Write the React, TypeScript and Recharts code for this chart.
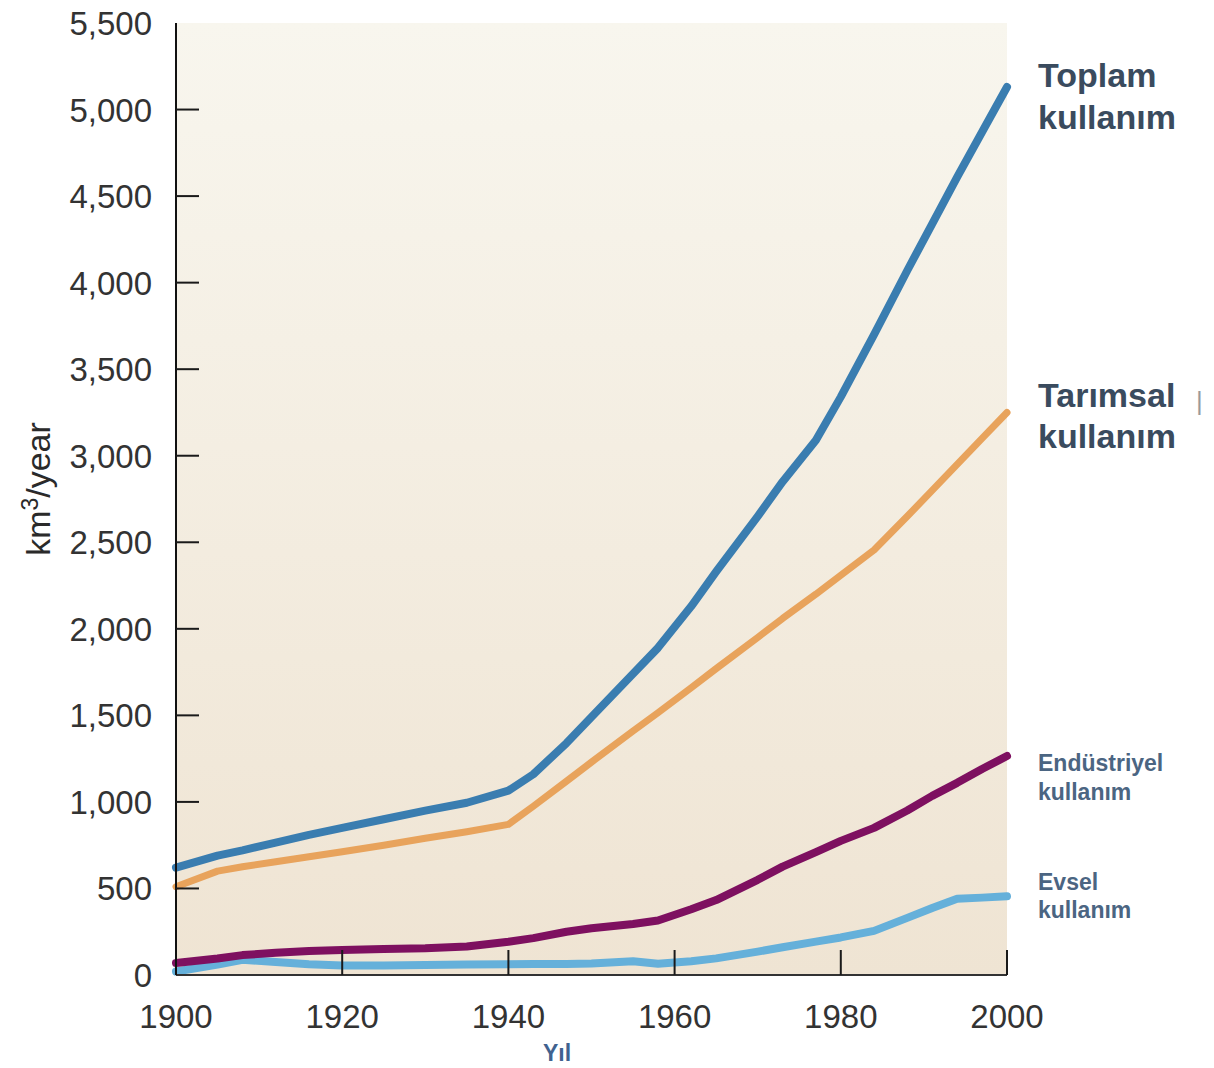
import React from 'react';
import { LineChart, Line, XAxis, YAxis, ReferenceArea } from 'recharts';

// years (kinks included)
const years = [1900, 1905, 1908, 1912, 1916, 1920, 1925, 1930, 1935, 1940, 1943, 1947, 1950, 1955, 1958, 1962, 1965, 1970, 1973, 1977, 1980, 1984, 1988, 1991, 1994, 1997, 2000];

const totalUse = [620, 690, 720, 765, 810, 850, 900, 950, 995, 1065, 1160, 1340, 1490, 1740, 1890, 2130, 2330, 2650, 2850, 3090, 3340, 3700, 4070, 4340, 4610, 4870, 5130];
const agricultureUse = [510, 600, 625, 654, 683, 712, 750, 790, 828, 870, 975, 1120, 1230, 1410, 1515, 1660, 1770, 1950, 2060, 2200, 2310, 2455, 2650, 2800, 2950, 3100, 3250];
const industryUse = [69, 95, 115, 128, 138, 144, 150, 154, 165, 192, 213, 250, 270, 295, 315, 380, 433, 550, 626, 710, 775, 850, 950, 1035, 1110, 1190, 1265];
const domesticUse = [20, 60, 88, 75, 62, 55, 55, 58, 60, 62, 63, 63, 66, 80, 65, 80, 96, 135, 160, 193, 217, 255, 330, 387, 440, 447, 455];

const xTicks = [1900, 1920, 1940, 1960, 1980, 2000];
const yTicks = [0, 500, 1000, 1500, 2000, 2500, 3000, 3500, 4000, 4500, 5000, 5500];

const data = years.map((year, i) => ({
  year,
  total: totalUse[i],
  agriculture: agricultureUse[i],
  industry: industryUse[i],
  domestic: domesticUse[i],
}));

const FONT = '"Liberation Sans", Arial, sans-serif';

const YTick = (props: any) => {
  const { x, y, payload } = props;
  const v = payload.value;
  return (
    <g>
      {v > 0 && v < 5500 && (
        <line x1={x + 24} x2={x + 47} y1={y} y2={y} stroke="#1a1a1a" strokeWidth={2} />
      )}
      <text x={x} y={y} dy={12} textAnchor="end" fontSize={33} fill="#333" fontFamily={FONT}>
        {v.toLocaleString('en-US')}
      </text>
    </g>
  );
};

const XTick = (props: any) => {
  const { x, y, payload } = props;
  const v = payload.value;
  return (
    <g>
      {v > 1900 && <line x1={x} x2={x} y1={y} y2={y - 25} stroke="#1a1a1a" strokeWidth={2} />}
      <text x={x} y={y + 53} textAnchor="middle" fontSize={33} fill="#333" fontFamily={FONT}>
        {v}
      </text>
    </g>
  );
};

export default function App() {
  return (
    <div style={{ position: 'absolute', left: 0, top: 0, width: 1214, height: 1068, background: '#fff' }}>
      <LineChart width={1214} height={1068} data={data} margin={{ top: 23, right: 207, bottom: 33, left: 0 }}>
        <defs>
          <linearGradient id="bg" x1="0" y1="0" x2="0" y2="1">
            <stop offset="0%" stopColor="#f8f6ee" />
            <stop offset="100%" stopColor="#efe4d3" />
          </linearGradient>
        </defs>
        <ReferenceArea x1={1900} x2={2000} y1={0} y2={5500} fill="url(#bg)" fillOpacity={1} stroke="none" />
        <XAxis
          dataKey="year"
          type="number"
          domain={[1900, 2000]}
          ticks={xTicks}
          interval={0}
          height={60}
          tickSize={0}
          tickMargin={0}
          tickLine={false}
          axisLine={{ stroke: '#333', strokeWidth: 2 }}
          tick={<XTick />}
        />
        <YAxis
          type="number"
          domain={[0, 5500]}
          ticks={yTicks}
          interval={0}
          width={176}
          tickSize={0}
          tickMargin={24}
          tickLine={false}
          axisLine={{ stroke: '#111', strokeWidth: 2 }}
          tick={<YTick />}
        />
        <Line type="linear" dataKey="domestic" stroke="#65b0da" strokeWidth={8} dot={false} strokeLinecap="round" strokeLinejoin="round" isAnimationActive={false} />
        <Line type="linear" dataKey="industry" stroke="#7e1060" strokeWidth={8} dot={false} strokeLinecap="round" strokeLinejoin="round" isAnimationActive={false} />
        <Line type="linear" dataKey="agriculture" stroke="#e8a35c" strokeWidth={7} dot={false} strokeLinecap="round" strokeLinejoin="round" isAnimationActive={false} />
        <Line type="linear" dataKey="total" stroke="#3a7db0" strokeWidth={8} dot={false} strokeLinecap="round" strokeLinejoin="round" isAnimationActive={false} />
      </LineChart>
      <svg
        width={1214}
        height={1068}
        style={{ position: 'absolute', left: 0, top: 0, pointerEvents: 'none' }}
        fontFamily={FONT}
      >
        <text transform="translate(50, 489) rotate(-90)" textAnchor="middle" fontSize={34} fill="#2a2a2a">
          km<tspan fontSize={23} dy={-12}>3</tspan>
          <tspan dy={12}>/year</tspan>
        </text>
        <text x={557} y={1061} textAnchor="middle" fontSize={23} fontWeight="bold" fill="#40628f">Yıl</text>

        <g fontSize={34} fontWeight="bold" fill="#3a4b5e">
          <text x={1038} y={87}>Toplam</text>
          <text x={1038} y={129}>kullanım</text>
          <text x={1038} y={407}>Tarımsal</text>
          <text x={1038} y={448}>kullanım</text>
        </g>
        <text x={1196} y={410} fontSize={26} fill="#9a9a9a">|</text>

        <g fontSize={23} fontWeight="bold" fill="#4b6582">
          <text x={1038} y={771}>Endüstriyel</text>
          <text x={1038} y={800}>kullanım</text>
          <text x={1038} y={890}>Evsel</text>
          <text x={1038} y={918}>kullanım</text>
        </g>
      </svg>
    </div>
  );
}
